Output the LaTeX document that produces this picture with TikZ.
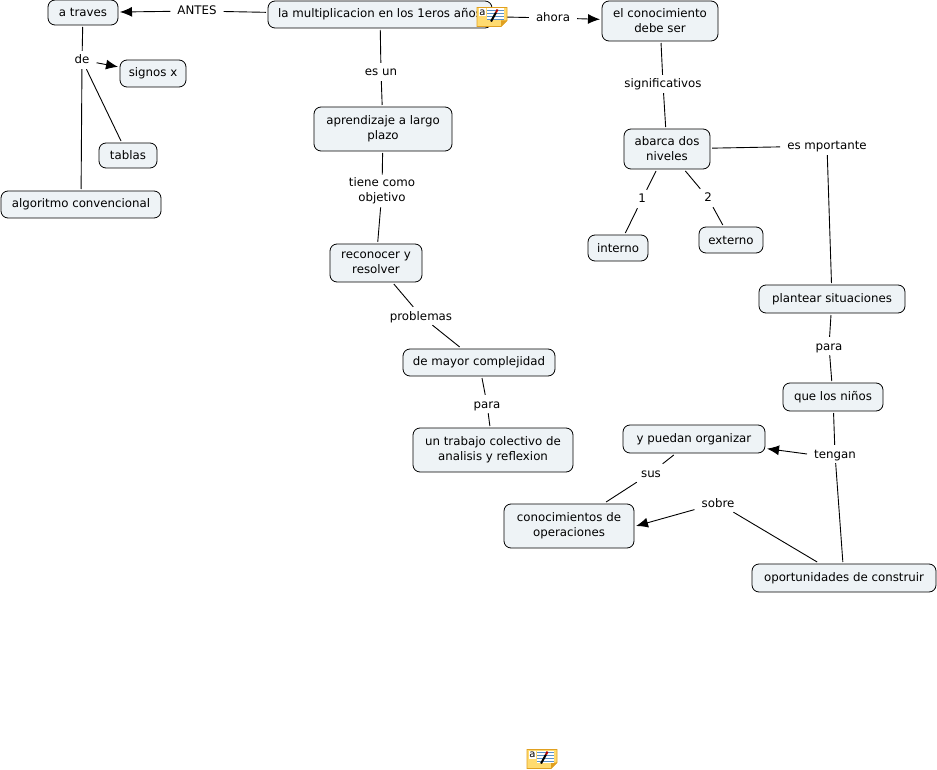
\documentclass[tikz,border=0pt]{standalone}
\usepackage{fontspec}
\setmainfont{DejaVu Sans}
\usetikzlibrary{arrows.meta}
\definecolor{boxfill}{HTML}{EEF3F6}
\definecolor{iconfill}{HTML}{FFDB70}
\definecolor{iconedge}{HTML}{E0A020}
\definecolor{iconline}{HTML}{5A90C8}
\tikzset{
  concept/.style = {draw, fill = boxfill, rounded corners = 7pt, line width = .8pt, align = center, font = \fontsize{11.8}{15}\selectfont, inner sep = 0pt, outer sep = 2pt},
  linking/.style = {align = center, font = \fontsize{11.8}{15}\selectfont, inner xsep = 7pt, inner ysep = 3pt, text height = 10pt, text depth = 2pt},
  link/.style = {line width = .9pt},
  linkto/.style = {line width = .9pt, -{Latex[length = 12pt, width = 10pt]}},
  noteicon/.pic = {
    \fill[iconfill, draw = iconedge, line width = .8pt] (-15,-9) -- (15,-9) -- (15,4) -- (9,10) -- (-15,10) -- cycle;
    \fill[iconedge] (15,4) -- (9,4) -- (9,10) -- cycle;
    \fill[white] (-13,-8) rectangle (-6,0);
    \fill[white] (-5,-8) rectangle (12,4);
    \foreach \ly in {-6,-3,0,3} \draw[iconline, line width = .9pt] (-5,\ly) -- (12,\ly);
    \draw[black, line width = 2pt] (-1,5) -- (4,-4);
    \draw[red!70!black, line width = 2pt] (4,-4) -- (5.5,-7);
    \node[font = \fontsize{10}{10}\selectfont, inner sep = 0pt] at (-9.5,-4) {a};
  }
}
\begin{document}
\begin{tikzpicture}[x = 1pt, y = -1pt]
\useasboundingbox (0,0) rectangle (937,770);
% boxes
\node[concept, minimum width = 70, minimum height = 25] (traves) at (83,12.5) {a traves};
\node[concept, minimum width = 66, minimum height = 27] (signos) at (153,73.5) {signos x};
\node[concept, minimum width = 58, minimum height = 25] (tablas) at (128,155.5) {tablas};
\node[concept, minimum width = 160, minimum height = 27] (algoritmo) at (81,204.5) {algoritmo convencional};
\node[concept, minimum width = 224, minimum height = 27] (multiplicacion) at (380,14.5) {la multiplicacion en los 1eros años};
\node[concept, minimum width = 138, minimum height = 44] (aprendizaje) at (383,129) {aprendizaje a largo\\plazo};
\node[concept, minimum width = 92, minimum height = 38] (reconocer) at (376,263) {reconocer y\\resolver};
\node[concept, minimum width = 152, minimum height = 27] (complejidad) at (479,362.5) {de mayor complejidad};
\node[concept, minimum width = 160, minimum height = 44] (trabajo) at (493,450) {un trabajo colectivo de\\analisis y reflexion};
\node[concept, minimum width = 116, minimum height = 40] (conocimiento) at (660,21) {el conocimiento\\debe ser};
\node[concept, minimum width = 86, minimum height = 40] (niveles) at (667,149) {abarca dos\\niveles};
\node[concept, minimum width = 60, minimum height = 26] (interno) at (618,248) {interno};
\node[concept, minimum width = 64, minimum height = 26] (externo) at (731,240) {externo};
\node[concept, minimum width = 146, minimum height = 28] (plantear) at (832,299) {plantear situaciones};
\node[concept, minimum width = 100, minimum height = 28] (ninos) at (833,397) {que los niños};
\node[concept, minimum width = 142, minimum height = 28] (organizar) at (694,439) {y puedan organizar};
\node[concept, minimum width = 130, minimum height = 44] (operaciones) at (569,526) {conocimientos de\\operaciones};
\node[concept, minimum width = 184, minimum height = 28] (oportunidades) at (844,578) {oportunidades de construir};
% linking words
\node[linking] (antes) at (197,11) {ANTES};
\node[linking] (de) at (82,60) {de};
\node[linking] (esun) at (381,72) {es un};
\node[linking, text height = , text depth = ] (objetivo) at (382,191) {tiene como\\objetivo};
\node[linking] (problemas) at (421,316) {problemas};
\node[linking] (para1) at (487,404) {para};
\node[linking] (ahora) at (553,18) {ahora};
\node[linking] (significativos) at (663,84) {significativos};
\node[linking] (uno) at (642,199) {1};
\node[linking] (dos) at (708,198) {2};
\node[linking] (mportante) at (827,146) {es mportante};
\node[linking] (para2) at (829,346) {para};
\node[linking] (tengan) at (835,454) {tengan};
\node[linking] (sus) at (651,473) {sus};
\node[linking] (sobre) at (718,503) {sobre};
% connectors
\draw[link] (multiplicacion) -- (antes);
\draw[linkto] (antes) -- (traves);
\draw[link] (traves) -- (de);
\draw[linkto] (de) -- (signos);
\draw[link] (de) -- (tablas);
\draw[link] (de) -- (algoritmo);
\draw[link] (multiplicacion) -- (esun);
\draw[link] (esun) -- (aprendizaje);
\draw[link] (aprendizaje) -- (objetivo);
\draw[link] (objetivo) -- (reconocer);
\draw[link] (reconocer) -- (problemas);
\draw[link] (problemas) -- (complejidad);
\draw[link] (complejidad) -- (para1);
\draw[link] (para1) -- (trabajo);
\draw[link] (multiplicacion) -- (ahora);
\draw[linkto] (ahora) -- (conocimiento);
\draw[link] (conocimiento) -- (significativos);
\draw[link] (significativos) -- (niveles);
\draw[link] (niveles) -- (uno);
\draw[link] (uno) -- (interno);
\draw[link] (niveles) -- (dos);
\draw[link] (dos) -- (externo);
\draw[link] (niveles) -- (mportante);
\draw[link] (mportante) -- (plantear);
\draw[link] (plantear) -- (para2);
\draw[link] (para2) -- (ninos);
\draw[link] (ninos) -- (tengan);
\draw[linkto] (tengan.west) -- (organizar);
\draw[link] (tengan) -- (oportunidades);
\draw[link] (oportunidades) -- (sobre);
\draw[linkto] (sobre) -- (operaciones.east);
\draw[link] (organizar) -- (sus);
\draw[link] (sus) -- (operaciones);
% note icons
\pic at (492,16.5) {noteicon};
\pic at (542,758.5) {noteicon};
\end{tikzpicture}
\end{document}
